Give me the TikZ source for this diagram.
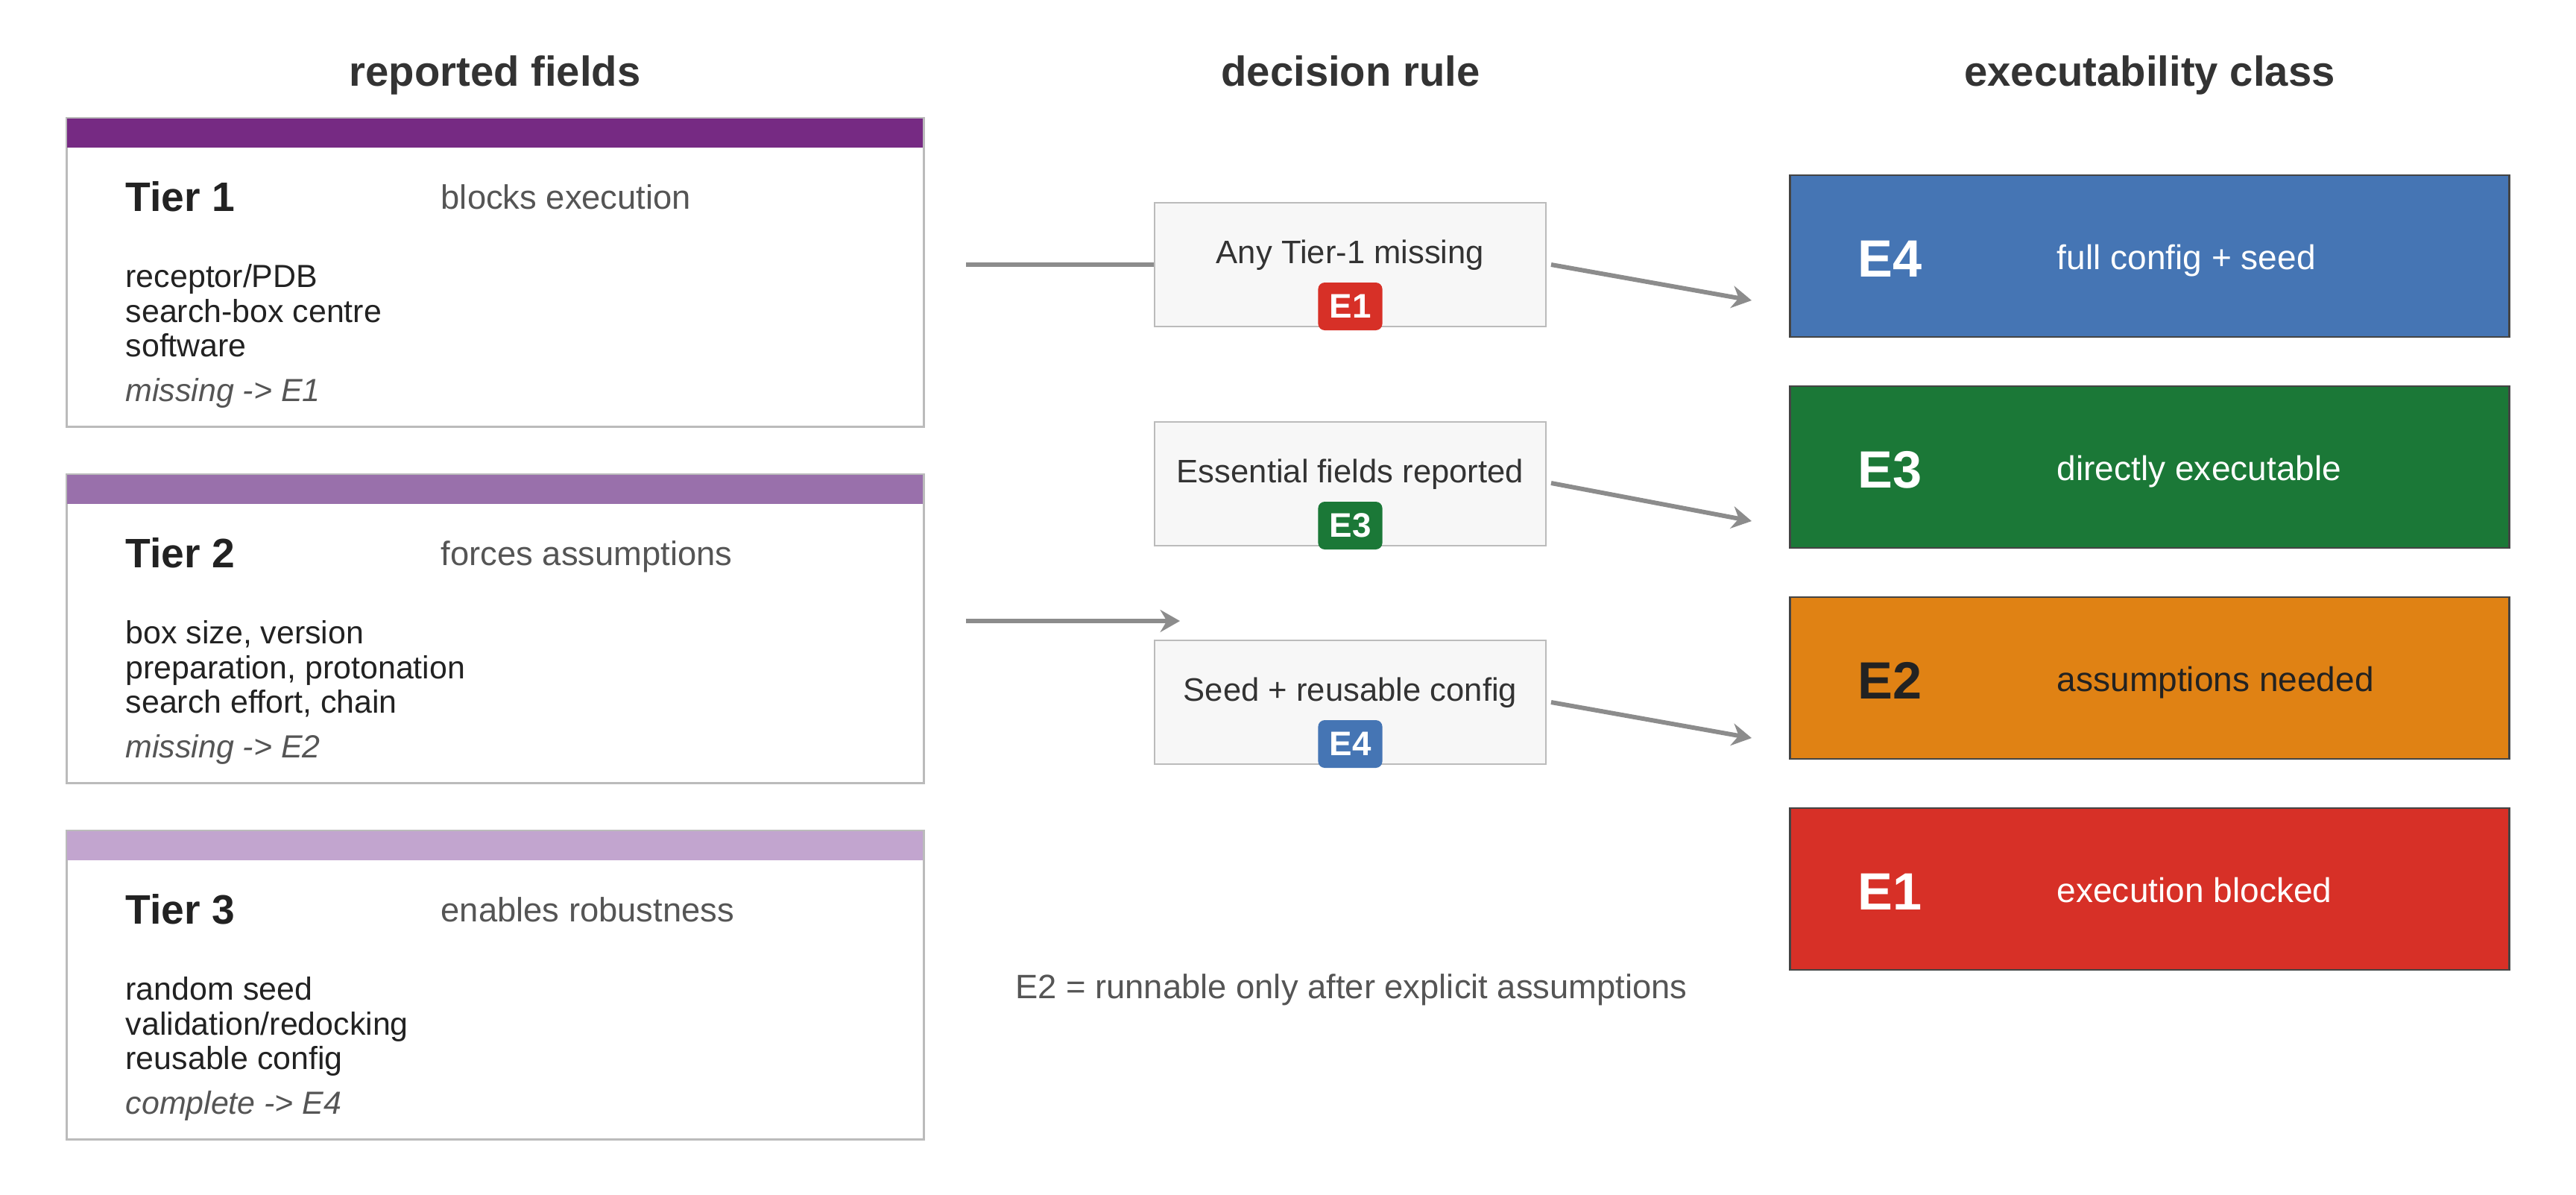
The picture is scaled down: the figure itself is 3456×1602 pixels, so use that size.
\documentclass[tikz,border=0pt]{standalone}
\usepackage{fontspec}
\setmainfont{Liberation Sans}
\usetikzlibrary{arrows.meta}
\definecolor{tierA}{HTML}{762A83}
\definecolor{tierB}{HTML}{9970AB}
\definecolor{tierC}{HTML}{C2A5CF}
\definecolor{cEfour}{HTML}{4575B4}
\definecolor{cEthree}{HTML}{1B7837}
\definecolor{cEtwo}{HTML}{E08214}
\definecolor{cEone}{HTML}{D73027}
\definecolor{ctxt}{HTML}{222222}
\definecolor{chead}{HTML}{333333}
\definecolor{csub}{HTML}{555555}
\definecolor{cedge}{HTML}{BBBBBB}
\definecolor{cconn}{HTML}{8C8C8C}
\definecolor{cdfill}{HTML}{F7F7F7}
\definecolor{cborder}{HTML}{444444}
\begin{document}
\begin{tikzpicture}[x=0.01cm,y=-0.01cm,
 heading/.style={font=\fontsize{16}{19}\selectfont\bfseries, text=chead, anchor=base, inner sep=0},
 tierbox/.style={draw=cedge, line width=0.6pt, fill=white, minimum width=326.9pt, minimum height=117.5pt, inner sep=0},
 tiertitle/.style={font=\fontsize{15.7}{19}\selectfont\bfseries, text=ctxt, anchor=base west, inner sep=0},
 tiersub/.style={font=\fontsize{12.9}{15}\selectfont, text=csub, anchor=base west, inner sep=0},
 field/.style={font=\fontsize{12.2}{15}\selectfont, text=ctxt, anchor=base west, inner sep=0},
 fate/.style={font=\fontsize{12.2}{15}\selectfont\itshape, text=csub, anchor=base west, inner sep=0},
 rulebox/.style={draw=cedge, line width=0.6pt, fill=cdfill, minimum width=149.4pt, minimum height=47.2pt, inner sep=0},
 ruletext/.style={font=\fontsize{12.4}{15}\selectfont, text=chead, anchor=base, inner sep=0},
 badge/.style={fill=#1, rounded corners=2.5pt, minimum width=24.5pt, minimum height=18.2pt, inner sep=0, text=white, font=\fontsize{13}{15}\selectfont\bfseries},
 classbox/.style={draw=cborder, line width=0.7pt, fill=#1, minimum width=274.5pt, minimum height=61.7pt, inner sep=0},
 classid/.style={font=\fontsize{20}{24}\selectfont\bfseries, anchor=base west, inner sep=0},
 classdesc/.style={font=\fontsize{13.1}{16}\selectfont, anchor=base west, inner sep=0},
 link/.style={draw=cconn, line width=1.7pt},
 arr/.style={link, -{Stealth[length=7.5pt, width=8.5pt, inset=2.5pt]}},
]
\useasboundingbox (0,0) rectangle (3456,1602);

% column headings
\node[heading] (h1) at (664,115) {reported fields};
\node[heading] (h2) at (1812,115) {decision rule};
\node[heading] (h3) at (2884,115) {executability class};

% tier boxes
\node[tierbox] (t1) at (664.5,365.5) {};
\fill[tierA] (t1.north west) rectangle ++(1149,40);
\draw[cedge, line width=0.6pt] (t1.north west) rectangle (t1.south east);
\node[tiertitle] (t1a) at (168,283) {Tier 1};
\node[tiersub] (t1b) at (591,280) {blocks execution};
\node[field] (t1c) at (168,385) {receptor/PDB};
\node[field] (t1d) at (168,432) {search-box centre};
\node[field] (t1e) at (168,478) {software};
\node[fate] (t1f) at (168,538) {missing -> E1};

\node[tierbox] (t2) at (664.5,843.5) {};
\fill[tierB] (t2.north west) rectangle ++(1149,40);
\draw[cedge, line width=0.6pt] (t2.north west) rectangle (t2.south east);
\node[tiertitle] (t2a) at (168,761) {Tier 2};
\node[tiersub] (t2b) at (591,758) {forces assumptions};
\node[field] (t2c) at (168,863) {box size, version};
\node[field] (t2d) at (168,910) {preparation, protonation};
\node[field] (t2e) at (168,956) {search effort, chain};
\node[fate] (t2f) at (168,1016) {missing -> E2};

\node[tierbox] (t3) at (664.5,1321.5) {};
\fill[tierC] (t3.north west) rectangle ++(1149,40);
\draw[cedge, line width=0.6pt] (t3.north west) rectangle (t3.south east);
\node[tiertitle] (t3a) at (168,1239) {Tier 3};
\node[tiersub] (t3b) at (591,1236) {enables robustness};
\node[field] (t3c) at (168,1341) {random seed};
\node[field] (t3d) at (168,1388) {validation/redocking};
\node[field] (t3e) at (168,1434) {reusable config};
\node[fate] (t3f) at (168,1494) {complete -> E4};

% decision boxes
\node[rulebox] (d1) at (1811.5,355) {};
\node[ruletext] (d1t) at (1811.5,353) {Any Tier-1 missing};
\node[badge=cEone] (d1b) at (1811.5,411) {E1};

\node[rulebox] (d2) at (1811.5,649) {};
\node[ruletext] (d2t) at (1811.5,647) {Essential fields reported};
\node[badge=cEthree] (d2b) at (1811.5,705) {E3};

\node[rulebox] (d3) at (1811.5,942) {};
\node[ruletext] (d3t) at (1811.5,940) {Seed + reusable config};
\node[badge=cEfour] (d3b) at (1811.5,998) {E4};

% class boxes
\node[classbox=cEfour] (c4) at (2884,343.5) {};
\node[classid, text=white] (c4a) at (2492,371.5) {E4};
\node[classdesc, text=white] (c4b) at (2759,361.5) {full config + seed};

\node[classbox=cEthree] (c3) at (2884,626.5) {};
\node[classid, text=white] (c3a) at (2492,654.5) {E3};
\node[classdesc, text=white] (c3b) at (2759,644.5) {directly executable};

\node[classbox=cEtwo] (c2) at (2884,909.5) {};
\node[classid, text=ctxt] (c2a) at (2492,937.5) {E2};
\node[classdesc, text=ctxt] (c2b) at (2759,927.5) {assumptions needed};

\node[classbox=cEone] (c1) at (2884,1192.5) {};
\node[classid, text=white] (c1a) at (2492,1220.5) {E1};
\node[classdesc, text=white] (c1b) at (2759,1210.5) {execution blocked};

% footnote
\node[font=\fontsize{12.9}{15}\selectfont, text=csub, anchor=base, inner sep=0] (fn) at (1813,1339) {E2 = runnable only after explicit assumptions};

% connectors
\coordinate (s1) at (1296,355);
\coordinate (s2) at (1296,833);
\coordinate (e2) at (1583,833);
\coordinate (o1) at (2081,355);
\coordinate (o2) at (2081,648);
\coordinate (o3) at (2081,942);
\coordinate (q1) at (2350,403);
\coordinate (q2) at (2350,699);
\coordinate (q3) at (2350,990);
\draw[link] (s1) -- (d1.west);
\draw[arr] (s2) -- (e2);
\draw[arr] (o1) -- (q1);
\draw[arr] (o2) -- (q2);
\draw[arr] (o3) -- (q3);
\end{tikzpicture}
\end{document}
